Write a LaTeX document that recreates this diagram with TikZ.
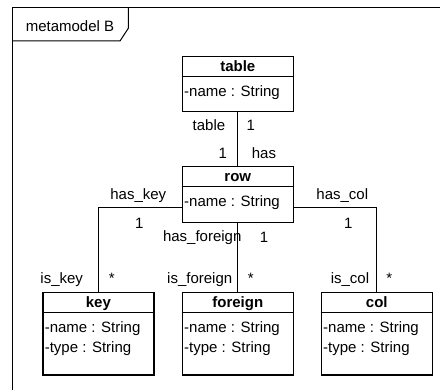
\documentclass[tikz,border=0pt]{standalone}
\usepackage{fontspec}
\setmainfont{Liberation Sans}
\begin{document}
\begin{tikzpicture}[x=1pt,y=-1pt,
  font=\fontsize{15}{18}\selectfont,
  cls/.style={draw, line width=1.2pt, minimum width=111pt, inner sep=0pt, anchor=north west},
  sep/.style={line width=1.2pt},
  ttl/.style={font=\fontsize{15}{18}\selectfont\bfseries, anchor=base, inner sep=0pt},
  attr/.style={anchor=base west, inner sep=0pt},
  lbl/.style={anchor=base, inner sep=0pt},
  conn/.style={line width=1.2pt},
  frm/.style={line width=1pt}]
\useasboundingbox (0,0) rectangle (440,390);

% frame
\coordinate (fbl) at (12.3,390);
\coordinate (ftl) at (12.3,7.7);
\coordinate (ftr) at (440,7.7);
\draw[frm] (fbl) -- (ftl) -- (ftr);
\coordinate (tabA) at (12.3,41);
\coordinate (tabB) at (120,41);
\coordinate (tabC) at (128.3,28.3);
\coordinate (tabD) at (128.3,7.7);
\draw[frm] (tabA) -- (tabB) -- (tabC) -- (tabD);
\node[inner sep=0pt] (frametitle) at (70,26) {metamodel B};

% table
\node[cls, minimum height=54.7pt] (table) at (181.7,56) {};
\draw[sep] ([yshift=-20.7pt]table.north west) -- ([yshift=-20.7pt]table.north east);
\node[ttl] (tablettl) at ([yshift=-16pt]table.north) {table};
\node[attr] (tablename) at ([xshift=2.3pt,yshift=-40.4pt]table.north west) {-name : String};

% row
\node[cls, minimum height=55.7pt] (row) at (181.7,166) {};
\draw[sep] ([yshift=-20.7pt]row.north west) -- ([yshift=-20.7pt]row.north east);
\node[ttl] (rowttl) at ([yshift=-16pt]row.north) {row};
\node[attr] (rowname) at ([xshift=2.3pt,yshift=-41pt]row.north west) {-name : String};

% key
\node[cls, minimum height=82.8pt] (key) at (42.3,291.7) {};
\draw[sep] ([yshift=-20.7pt]key.north west) -- ([yshift=-20.7pt]key.north east);
\node[ttl] (keyttl) at ([yshift=-16pt]key.north) {key};
\node[attr] (keyname) at ([xshift=2.3pt,yshift=-41pt]key.north west) {-name : String};
\node[attr] (keytype) at ([xshift=2.3pt,yshift=-61pt]key.north west) {-type : String};

% foreign
\node[cls, minimum height=82.8pt] (foreign) at (181.7,291.7) {};
\draw[sep] ([yshift=-20.7pt]foreign.north west) -- ([yshift=-20.7pt]foreign.north east);
\node[ttl] (foreignttl) at ([yshift=-16pt]foreign.north) {foreign};
\node[attr] (foreignname) at ([xshift=2.3pt,yshift=-41pt]foreign.north west) {-name : String};
\node[attr] (foreigntype) at ([xshift=2.3pt,yshift=-61pt]foreign.north west) {-type : String};

% col
\node[cls, minimum height=82.8pt] (col) at (320.7,291.7) {};
\draw[sep] ([yshift=-20.7pt]col.north west) -- ([yshift=-20.7pt]col.north east);
\node[ttl] (colttl) at ([yshift=-16pt]col.north) {col};
\node[attr] (colname) at ([xshift=2.3pt,yshift=-41pt]col.north west) {-name : String};
\node[attr] (coltype) at ([xshift=2.3pt,yshift=-61pt]col.north west) {-type : String};

% connectors
\draw[conn] (table.south) -- (row.north);
\draw[conn] ([yshift=-41.3pt]row.north west) -| (key.north);
\draw[conn] ([yshift=-41.3pt]row.north east) -| (col.north);
\draw[conn] (row.south) -- (foreign.north);

% labels
\node[lbl] (l1) at (209,130.4) {table};
\node[lbl] (l2) at (250.7,130.4) {1};
\node[lbl] (l3) at (222.7,158.1) {1};
\node[lbl] (l4) at (264,158.1) {has};
\node[lbl] (l5) at (138.3,199.5) {has\_key};
\node[lbl] (l6) at (139.3,228.1) {1};
\node[lbl] (l7) at (342.3,199.5) {has\_col};
\node[lbl] (l8) at (348.3,228.5) {1};
\node[lbl] (l9) at (202.2,242) {has\_foreign};
\node[lbl] (l10) at (264,242.7) {1};
\node[lbl] (l11) at (61.7,284) {is\_key};
\node[lbl] (l12) at (111.7,284) {*};
\node[lbl] (l13) at (199.7,284) {is\_foreign};
\node[lbl] (l14) at (250.7,284) {*};
\node[lbl] (l15) at (350,284) {is\_col};
\node[lbl] (l16) at (389.3,284) {*};
\end{tikzpicture}
\end{document}
